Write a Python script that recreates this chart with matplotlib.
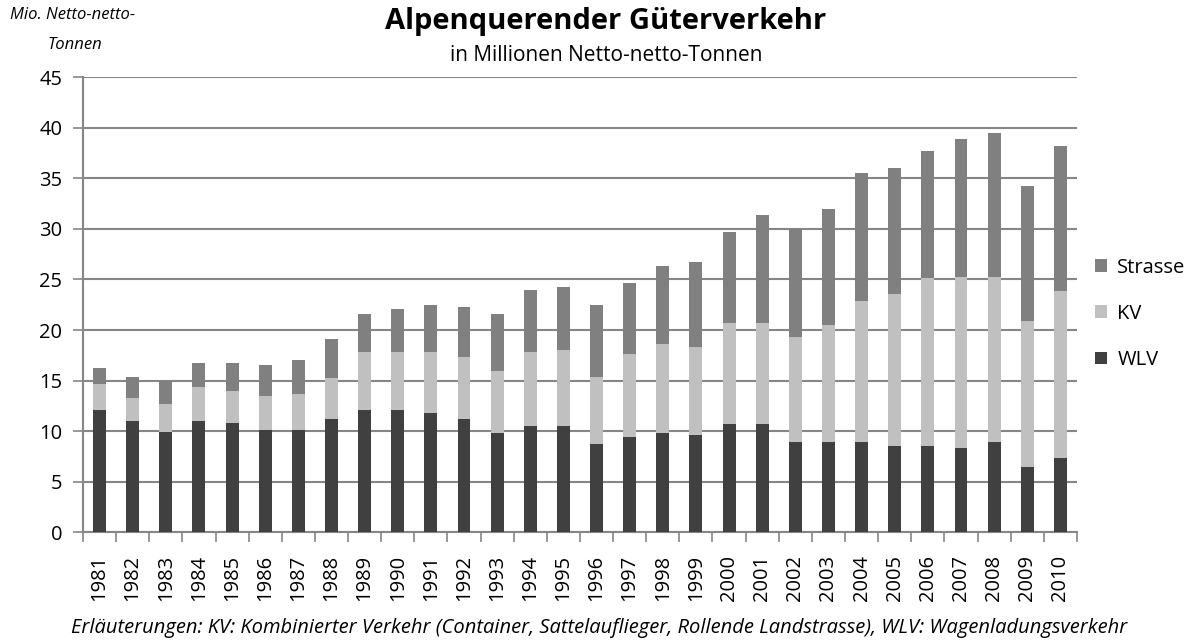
import matplotlib.pyplot as plt
import numpy as np
from matplotlib.ticker import FixedLocator, NullFormatter

plt.rcParams['font.family'] = ['Open Sans', 'DejaVu Sans']

years = [str(y) for y in range(1981, 2011)]
total = [16.3, 15.4, 15.0, 16.7, 16.7, 16.5, 17.0, 19.1, 21.6, 22.1,
         22.5, 22.3, 21.6, 24.0, 24.3, 22.5, 24.7, 26.3, 26.7, 29.7,
         31.4, 30.0, 32.0, 35.5, 36.0, 37.7, 38.9, 39.5, 34.2, 38.2]
wlv = [12.1, 11.0, 9.9, 11.0, 10.8, 10.1, 10.1, 11.2, 12.1, 12.1,
       11.8, 11.2, 9.8, 10.5, 10.5, 8.7, 9.4, 9.8, 9.6, 10.7,
       10.7, 8.9, 8.9, 8.9, 8.5, 8.5, 8.3, 8.9, 6.5, 7.4]
wlv_kv = [14.7, 13.3, 12.7, 14.4, 14.0, 13.5, 13.7, 15.3, 17.8, 17.8,
          17.8, 17.3, 16.0, 17.8, 18.0, 15.4, 17.6, 18.6, 18.3, 20.7,
          20.7, 19.3, 20.5, 22.9, 23.6, 25.1, 25.2, 25.2, 20.9, 23.9]
kv = [round(a - b, 1) for a, b in zip(wlv_kv, wlv)]
strasse = [round(a - b, 1) for a, b in zip(total, wlv_kv)]

fig = plt.figure(figsize=(11.99, 6.43), dpi=100)
ax = fig.add_axes([0.0692, 0.172, 0.829, 0.708])

x = np.arange(len(years))
w = 0.39
b1 = ax.bar(x, wlv, w, color='#404040', label='WLV', zorder=3)
b2 = ax.bar(x, kv, w, bottom=wlv, color='#c0c0c0', label='KV', zorder=3)
b3 = ax.bar(x, strasse, w, bottom=wlv_kv, color='#808080', label='Strasse', zorder=3)

ax.set_xlim(-0.5, len(years) - 0.5)
ax.set_ylim(0, 45)
ax.set_yticks(range(0, 46, 5))
ax.yaxis.grid(True, color='#868686', linewidth=1.5, zorder=0)
ax.tick_params(axis='y', labelsize=14.5, length=7, color='#868686', width=1.2, pad=8)

ax.set_xticks(x)
ax.set_xticklabels(years, rotation=90, fontsize=14.5)
ax.tick_params(axis='x', which='major', length=0, pad=16)
ax.xaxis.set_minor_locator(FixedLocator(np.arange(-0.5, len(years), 1)))
ax.xaxis.set_minor_formatter(NullFormatter())
ax.tick_params(axis='x', which='minor', length=7, color='#868686', width=1.2)

for s in ['top', 'right']:
    ax.spines[s].set_visible(False)
for s in ['left', 'bottom']:
    ax.spines[s].set_color('#868686')
    ax.spines[s].set_linewidth(1.5)

handles = [b3, b2, b1]
ax.legend(handles, ['Strasse', 'KV', 'WLV'], loc='center left',
          bbox_to_anchor=(1.0, 0.48), frameon=False, fontsize=14.5,
          handlelength=0.6, handleheight=0.6, labelspacing=1.3,
          handletextpad=0.5)

fig.text(0.505, 0.966, 'Alpenquerender Güterverkehr', ha='center', va='center',
         fontsize=21, fontweight='bold')
fig.text(0.506, 0.914, 'in Millionen Netto-netto-Tonnen', ha='center', va='center',
         fontsize=15)
fig.text(0.008, 0.977, 'Mio. Netto-netto-', ha='left', va='center',
         fontsize=12, style='italic')
fig.text(0.04, 0.930, 'Tonnen', ha='left', va='center',
         fontsize=12, style='italic')
fig.text(0.5, 0.023, 'Erläuterungen: KV: Kombinierter Verkehr (Container, Sattelauflieger, '
         'Rollende Landstrasse), WLV: Wagenladungsverkehr', ha='center', va='center',
         fontsize=14.5, style='italic')

fig.savefig('out.png', dpi=100)
